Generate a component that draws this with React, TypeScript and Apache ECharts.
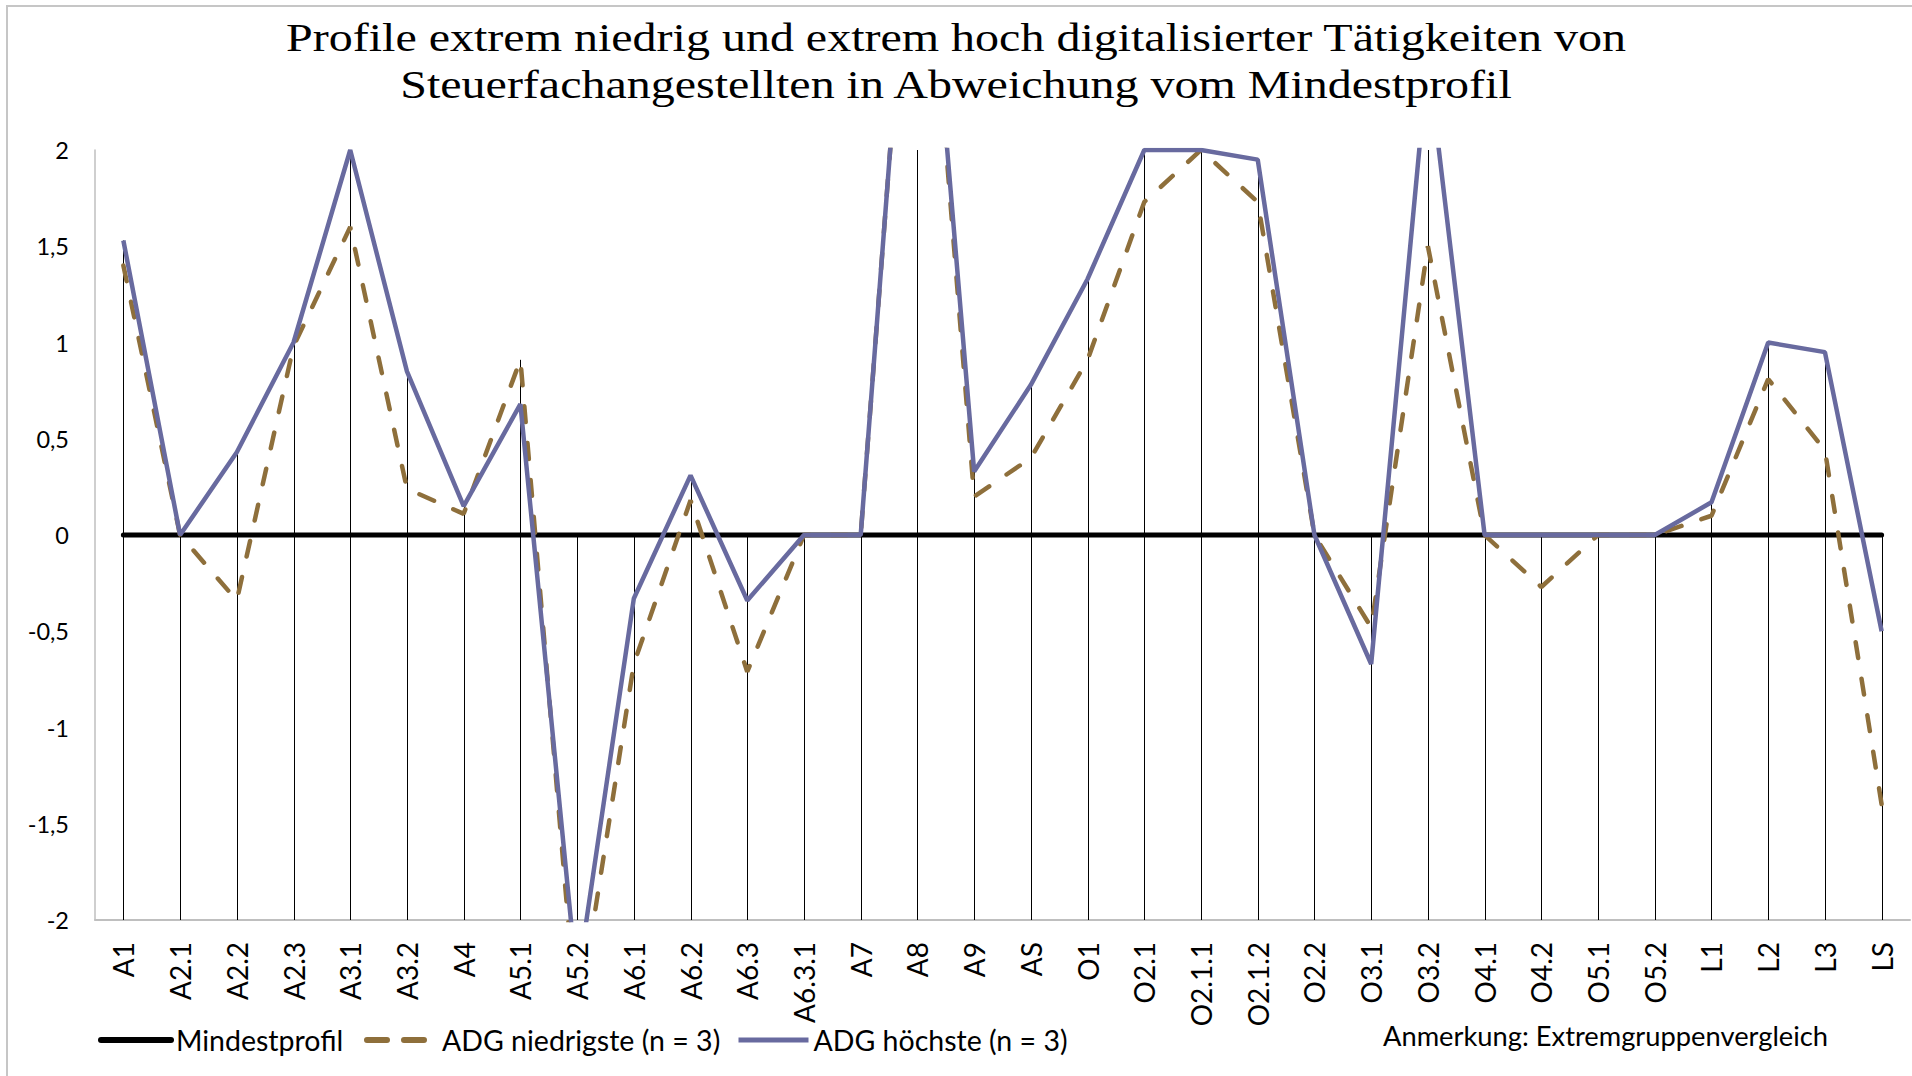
import React, { useEffect, useRef } from "react";
import * as echarts from "echarts";

const categories = [
  "A1", "A2.1", "A2.2", "A2.3", "A3.1", "A3.2", "A4", "A5.1", "A5.2", "A6.1",
  "A6.2", "A6.3", "A6.3.1", "A7", "A8", "A9", "AS", "O1", "O2.1", "O2.1.1",
  "O2.1.2", "O2.2", "O3.1", "O3.2", "O4.1", "O4.2", "O5.1", "O5.2", "L1", "L2",
  "L3", "LS",
];

const mindestprofil = [
  0, 0, 0, 0, 0, 0, 0, 0, 0, 0, 0, 0, 0, 0, 0, 0,
  0, 0, 0, 0, 0, 0, 0, 0, 0, 0, 0, 0, 0, 0, 0, 0,
];

const adgNiedrigste = [
  1.4, 0, -0.34, 0.98, 1.6, 0.24, 0.11, 0.91, -2.55, -0.67,
  0.18, -0.71, 0, 0, 3.85, 0.2, 0.4, 0.91, 1.73, 2.0,
  1.73, 0, -0.48, 1.5, 0, -0.27, 0, 0, 0.1, 0.81,
  0.44, -1.4,
];

const adgHoechste = [
  1.53, 0, 0.43, 1.0, 2.0, 0.85, 0.15, 0.68, -2.33, -0.33,
  0.31, -0.34, 0, 0, 3.85, 0.33, 0.78, 1.33, 2.0, 2.0,
  1.95, 0, -0.67, 2.48, 0, 0, 0, 0, 0.17, 1.0,
  0.95, -0.5,
];

const yMin = -2;
const yMax = 2;
const yInterval = 0.5;

const seriesNames = ["Mindestprofil", "ADG niedrigste (n = 3)", "ADG höchste (n = 3)"];
const titleLines = [
  "Profile extrem niedrig und extrem hoch digitalisierter Tätigkeiten von",
  "Steuerfachangestellten in Abweichung vom Mindestprofil",
];
const noteText = "Anmerkung: Extremgruppenvergleich";

const BLUE = "#686a9f";
const BROWN = "#8e6f3b";
const SANS = "Lato, 'Open Sans', sans-serif";
const SERIF = "'Liberation Serif', 'DejaVu Serif', serif";

export default function App() {
  const ref = useRef<HTMLDivElement>(null);

  useEffect(() => {
    if (!ref.current) return;
    const chart = echarts.init(ref.current, undefined, { renderer: "svg" });

    const dropData = categories.map((_, i) => [
      i,
      Math.max(yMin, Math.min(yMax, Math.max(mindestprofil[i], adgNiedrigste[i], adgHoechste[i]))),
    ]);

    const legendText = { fontFamily: SANS, fontSize: 28.5, color: "#000", lineHeight: 30 };
    const hiddenSymbol = { color: "rgba(0,0,0,0)", borderWidth: 0, opacity: 0 };
    const legendBase = {
      top: 1025,
      padding: 0,
      itemWidth: 70,
      itemHeight: 14,
      selectedMode: false,
      textStyle: legendText,
    };

    const titleStyle = {
      fontFamily: SERIF,
      fontSize: 40,
      fill: "#000",
      align: "center",
      verticalAlign: "middle",
      textAlign: "center",
      textVerticalAlign: "middle",
    };

    chart.setOption({
      animation: false,
      backgroundColor: "#fff",
      grid: { left: 95, right: 2, top: 150, bottom: 156, containLabel: false },
      xAxis: {
        type: "category",
        data: categories,
        boundaryGap: true,
        axisLine: { show: true, onZero: false, lineStyle: { color: "#bfbfbf", width: 2 } },
        axisTick: { show: false },
        splitLine: { show: false },
        axisLabel: {
          interval: 0,
          rotate: 90,
          margin: 22,
          fontFamily: SANS,
          fontSize: 28,
          color: "#000",
        },
      },
      yAxis: {
        type: "value",
        min: yMin,
        max: yMax,
        interval: yInterval,
        axisLine: { show: true, lineStyle: { color: "#bfbfbf", width: 1.5 } },
        axisTick: { show: false },
        splitLine: { show: false },
        axisLabel: {
          margin: 26,
          fontFamily: SANS,
          fontSize: 23.5,
          color: "#000",
          formatter: (v: number) => String(v).replace(".", ","),
        },
      },
      legend: [
        {
          ...legendBase,
          left: 98,
          data: [{
            name: seriesNames[0],
            itemStyle: hiddenSymbol,
            lineStyle: { color: "#000", width: 6, type: "solid", cap: "round" },
          }],
        },
        {
          ...legendBase,
          left: 364,
          data: [{
            name: seriesNames[1],
            itemStyle: hiddenSymbol,
            lineStyle: { color: BROWN, width: 6, type: [20, 17], cap: "round" },
          }],
        },
        {
          ...legendBase,
          left: 736,
          data: [{
            name: seriesNames[2],
            itemStyle: hiddenSymbol,
            lineStyle: { color: BLUE, width: 5, type: "solid" },
          }],
        },
      ],
      graphic: [
        {
          type: "rect",
          silent: true,
          shape: { x: 7, y: 6, width: 1920, height: 1100 },
          style: { fill: "none", stroke: "#c6c6c6", lineWidth: 2 },
        },
        {
          type: "text",
          x: 956,
          y: 37.5,
          scaleX: 1.2,
          style: { ...titleStyle, text: titleLines[0] },
        },
        {
          type: "text",
          x: 956,
          y: 84.5,
          scaleX: 1.2,
          style: { ...titleStyle, text: titleLines[1] },
        },
        {
          type: "text",
          x: 1383,
          y: 1035,
          style: {
            text: noteText,
            fontFamily: SANS,
            fontSize: 27.3,
            fill: "#000",
            align: "left",
            verticalAlign: "middle",
            textAlign: "left",
            textVerticalAlign: "middle",
          },
        },
      ],
      series: [
        {
          type: "custom",
          name: "drop",
          z: 1,
          silent: true,
          data: dropData,
          encode: { x: 0, y: 1 },
          renderItem: (_params: any, api: any) => {
            const i = api.value(0);
            const top = api.coord([i, api.value(1)]);
            const bottom = api.coord([i, yMin]);
            const x = Math.round(top[0]) + 0.5;
            return {
              type: "line",
              shape: { x1: x, y1: top[1], x2: x, y2: bottom[1] },
              style: { stroke: "#000", lineWidth: 1 },
            };
          },
        },
        {
          type: "line",
          name: seriesNames[0],
          z: 2,
          data: mindestprofil,
          symbol: "none",
          lineStyle: { color: "#000", width: 5, cap: "round" },
          itemStyle: { color: "#000" },
        },
        {
          type: "line",
          name: seriesNames[1],
          z: 3,
          data: adgNiedrigste,
          symbol: "none",
          lineStyle: { color: BROWN, width: 4.5, type: [16, 21], cap: "round" },
          itemStyle: { color: BROWN },
        },
        {
          type: "line",
          name: seriesNames[2],
          z: 4,
          data: adgHoechste,
          symbol: "none",
          lineStyle: { color: BLUE, width: 4.5 },
          itemStyle: { color: BLUE },
        },
      ],
    });

    return () => chart.dispose();
  }, []);

  return (
    <div
      ref={ref}
      style={{ position: "fixed", left: 0, top: 0, width: 1912, height: 1076, background: "#fff" }}
    />
  );
}
